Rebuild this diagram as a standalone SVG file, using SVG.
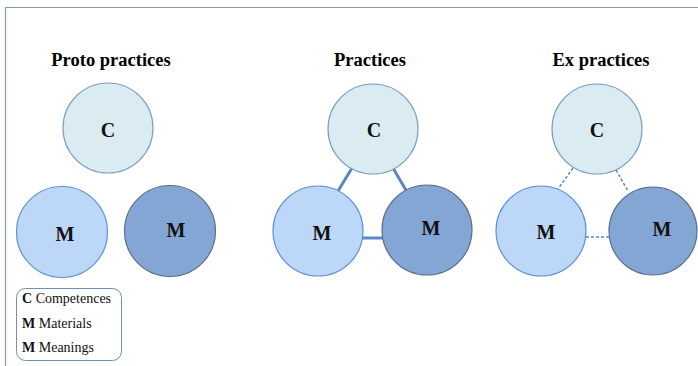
<svg xmlns="http://www.w3.org/2000/svg" width="698" height="366" viewBox="0 0 698 366">
  <style>
    .title { font-family: "Liberation Serif", "Times New Roman", serif; font-weight: bold; font-size: 18.5px; fill: #000; text-anchor: middle; }
    .letter { font-family: "Liberation Serif", "Times New Roman", serif; font-weight: bold; font-size: 20px; fill: #111; text-anchor: middle; }
    .legend { font-family: "Liberation Serif", "Times New Roman", serif; font-size: 14px; fill: #111; }
    .legend tspan.k { font-weight: bold; }
    .comp { fill: #daecf2; stroke: #7f9fc2; stroke-width: 1.2; }
    .mat { fill: #bcd7f8; stroke: #5c92d8; stroke-width: 1.2; }
    .mean { fill: #84a6d4; stroke: #5d6e88; stroke-width: 1.2; }
    .link { stroke: #5a88c4; stroke-width: 3; fill: none; }
    .weak { stroke: #5a88c4; stroke-width: 1.5; stroke-dasharray: 3 2; fill: none; }
  </style>

  <rect width="698" height="366" fill="#ffffff"/>

  <!-- frame -->
  <path d="M5.5 366 V7.5 H698" fill="none" stroke="#8399b4" stroke-width="1.2"/>

  <!-- headings -->
  <text class="title" x="111" y="66">Proto practices</text>
  <text class="title" x="370" y="66">Practices</text>
  <text class="title" x="601" y="66">Ex practices</text>

  <!-- connectors -->
  <g id="connectors">
    <line class="link" x1="352" y1="168" x2="338" y2="191"/>
    <line class="link" x1="393" y1="168" x2="407" y2="192"/>
    <line class="link" x1="362" y1="238" x2="383" y2="238"/>
    <line class="weak" x1="573" y1="168" x2="558" y2="189"/>
    <line class="weak" x1="616" y1="170" x2="628" y2="191"/>
    <line class="weak" x1="586" y1="237" x2="610" y2="237"/>
  </g>

  <!-- proto practices -->
  <g id="proto-c">
    <circle class="comp" cx="108" cy="128" r="45"/>
    <text class="letter" x="108" y="137">C</text>
  </g>
  <g id="proto-m1">
    <circle class="mat" cx="62" cy="232" r="45.5"/>
    <text class="letter" x="65" y="241">M</text>
  </g>
  <g id="proto-m2">
    <circle class="mean" cx="170" cy="231" r="45.5"/>
    <text class="letter" x="176" y="237">M</text>
  </g>

  <!-- practices -->
  <g id="prac-c">
    <circle class="comp" cx="373" cy="129" r="45"/>
    <text class="letter" x="374" y="137">C</text>
  </g>
  <g id="prac-m1">
    <circle class="mat" cx="318" cy="231" r="45"/>
    <text class="letter" x="322" y="240">M</text>
  </g>
  <g id="prac-m2">
    <circle class="mean" cx="427" cy="230" r="45"/>
    <text class="letter" x="431" y="235">M</text>
  </g>

  <!-- ex practices -->
  <g id="ex-c">
    <circle class="comp" cx="597" cy="129" r="45"/>
    <text class="letter" x="597" y="137">C</text>
  </g>
  <g id="ex-m1">
    <circle class="mat" cx="541" cy="231" r="45"/>
    <text class="letter" x="546" y="239">M</text>
  </g>
  <g id="ex-m2">
    <circle class="mean" cx="653" cy="231" r="44"/>
    <text class="letter" x="662" y="236">M</text>
  </g>

  <!-- legend -->
  <g id="legend">
    <rect x="16.5" y="288.5" width="105" height="72" rx="9" fill="#ffffff" stroke="#6e8fb8" stroke-width="1"/>
    <text class="legend" x="22" y="303"><tspan class="k">C</tspan> Competences</text>
    <text class="legend" x="22" y="328"><tspan class="k">M</tspan> Materials</text>
    <text class="legend" x="22" y="352"><tspan class="k">M</tspan> Meanings</text>
  </g>
</svg>
